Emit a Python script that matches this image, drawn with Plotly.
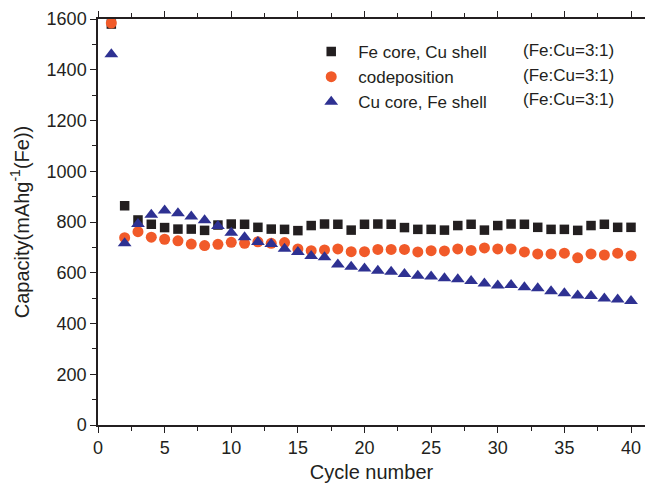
import plotly.graph_objects as go

cycles = list(range(1, 41))

fe_core_cu_shell = [1580, 864, 808, 791, 778, 772, 772, 767, 788, 792,
                    791, 779, 772, 771, 766, 786, 792, 791, 768, 791,
                    792, 791, 778, 771, 771, 768, 786, 791, 768, 786,
                    792, 791, 779, 771, 771, 767, 786, 791, 779, 779]

codeposition = [1584, 738, 762, 740, 732, 726, 713, 707, 712, 720,
                716, 722, 716, 719, 694, 687, 690, 694, 683, 683,
                692, 692, 692, 682, 687, 686, 694, 688, 698, 694,
                694, 682, 674, 674, 677, 659, 674, 670, 677, 667]

cu_core_fe_shell = [1461, 716, 792, 829, 845, 834, 822, 807, 784, 758,
                    740, 721, 713, 695, 682, 666, 661, 633, 624, 617,
                    608, 604, 595, 588, 585, 578, 574, 567, 558, 550,
                    552, 543, 539, 527, 519, 510, 508, 499, 495, 489]

series_names = ["Fe core, Cu shell", "codeposition", "Cu core, Fe shell"]
ratio_label = "(Fe:Cu=3:1)"

FONT = "Liberation Sans, Arial, sans-serif"
TXT = "#231f20"

fig = go.Figure()
fig.add_trace(go.Scatter(x=cycles, y=fe_core_cu_shell, mode="markers", name=series_names[0],
                         marker=dict(symbol="square", size=9.5, color="#231f20")))
fig.add_trace(go.Scatter(x=cycles, y=codeposition, mode="markers", name=series_names[1],
                         marker=dict(symbol="circle", size=11, color="#f15a29")))
fig.add_trace(go.Scatter(x=cycles, y=cu_core_fe_shell, mode="markers", name=series_names[2],
                         marker=dict(symbol="triangle-up", size=12, color="#2e3192")))

row_y = [0.923, 0.862, 0.801]
for yy in row_y:
    fig.add_annotation(xref="paper", yref="paper", x=0.774, y=yy, xanchor="left", yanchor="middle",
                       text=ratio_label, showarrow=False, font=dict(family=FONT, size=17, color=TXT))

axis_common = dict(showline=True, linecolor=TXT, linewidth=1.5, ticks="outside", tickcolor=TXT,
                   tickwidth=1.3, ticklen=6, showgrid=False, zeroline=False, automargin=False,
                   tickfont=dict(family=FONT, size=18, color=TXT))

fig.update_xaxes(range=[0, 41.05], dtick=5, tick0=0, mirror="allticks",
                 minor=dict(dtick=2.5, ticks="outside", ticklen=4, tickcolor=TXT, tickwidth=1.2),
                 title=dict(text="Cycle number", font=dict(family=FONT, size=20, color=TXT), standoff=8),
                 **axis_common)
fig.update_yaxes(range=[0, 1600], dtick=200, tick0=0, mirror=False,
                 minor=dict(dtick=100, ticks="outside", ticklen=4, tickcolor=TXT, tickwidth=1.2),
                 title=dict(text="Capacity(mAhg<sup>-1</sup>(Fe))", font=dict(family=FONT, size=20, color=TXT),
                            standoff=12),
                 **axis_common)

fig.update_layout(
    width=645, height=492,
    margin=dict(l=98, r=0, t=19, b=67),
    plot_bgcolor="white", paper_bgcolor="white",
    font=dict(family=FONT, color=TXT),
    legend=dict(x=0.377, y=0.963, xanchor="left", yanchor="top", bgcolor="rgba(0,0,0,0)",
                font=dict(family=FONT, size=17, color=TXT), tracegroupgap=0, itemwidth=44),
    showlegend=True,
)

fig.write_html("out.html", config={"displayModeBar": False},
               post_script="document.body.style.margin='0';document.body.style.overflow='hidden';")
